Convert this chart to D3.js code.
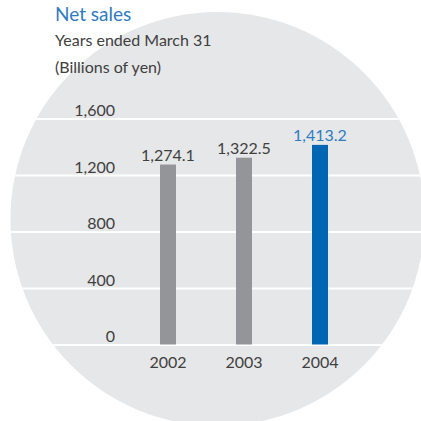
<!DOCTYPE html>
<html>
<head>
<meta charset="utf-8">
<script src="https://cdn.jsdelivr.net/npm/d3@7"></script>
<style>
  body { margin: 0; background: #fff; }
  svg { display: block; font-family: Lato, "Noto Sans", sans-serif; }
</style>
</head>
<body>
<svg width="421" height="421"></svg>
<script>
// Net sales, billions of yen
const years = ["2002", "2003", "2004"];
const sales = [1274.1, 1322.5, 1413.2];
const yTicks = [0, 400, 800, 1200, 1600];

const width = 421;
const textColor = "#404040";
const blueText = "#2e7cc2";

const svg = d3.select("svg");

// background disc, also used to clip the grid
svg.append("defs")
  .append("clipPath")
  .attr("id", "disc")
  .append("circle")
  .attr("cx", 217.5)
  .attr("cy", 219)
  .attr("r", 207);

svg.append("circle")
  .attr("cx", 217.5)
  .attr("cy", 219)
  .attr("r", 207)
  .attr("fill", "#e6e7e8");

// scales
const x = d3.scaleBand()
  .domain(years)
  .range([130, 358])
  .paddingInner(60 / 76)
  .paddingOuter(30 / 76);

const y = d3.scaleLinear()
  .domain([0, 1600])
  .range([344.5, 118.5]);

// white grid lines
const grid = svg.append("g")
  .attr("clip-path", "url(#disc)")
  .append("g")
  .attr("transform", `translate(${width},0)`)
  .call(d3.axisLeft(y).tickValues(yTicks).tickSize(width).tickFormat(""));
grid.select(".domain").remove();
grid.selectAll(".tick line")
  .attr("stroke", "#fff")
  .attr("stroke-width", 2);

// y tick labels, sitting just above each line
const gy = svg.append("g")
  .attr("transform", "translate(115,0)")
  .call(d3.axisLeft(y).tickValues(yTicks).tickSize(0).tickPadding(0).tickFormat(d3.format(",")))
  .attr("font-family", null)
  .attr("font-size", 16);
gy.select(".domain").remove();
gy.selectAll(".tick text")
  .attr("dy", null)
  .attr("y", -3)
  .attr("fill", textColor);

// bars
svg.append("g")
  .selectAll("rect")
  .data(sales)
  .join("rect")
  .attr("x", (d, i) => x(years[i]))
  .attr("y", d => y(d))
  .attr("width", x.bandwidth())
  .attr("height", d => y(0) - y(d))
  .attr("fill", (d, i) => i === sales.length - 1 ? "#0066b3" : "#939598");

// value labels
svg.append("g")
  .selectAll("text")
  .data(sales)
  .join("text")
  .attr("x", (d, i) => x(years[i]) + x.bandwidth() / 2)
  .attr("y", d => y(d) - 4)
  .attr("text-anchor", "middle")
  .attr("font-size", 16)
  .attr("fill", (d, i) => i === sales.length - 1 ? blueText : textColor)
  .text(d3.format(",.1f"));

// x axis labels
const gx = svg.append("g")
  .attr("transform", "translate(0,368)")
  .call(d3.axisBottom(x).tickSize(0).tickPadding(0))
  .attr("font-family", null)
  .attr("font-size", 16);
gx.select(".domain").remove();
gx.selectAll(".tick text")
  .attr("y", 0)
  .attr("dy", null)
  .attr("fill", textColor);

// titles
svg.append("text")
  .attr("x", 55)
  .attr("y", 20.5)
  .attr("font-size", 19)
  .attr("fill", blueText)
  .text("Net sales");

svg.append("text")
  .attr("x", 55)
  .attr("y", 45.5)
  .attr("font-size", 16)
  .attr("fill", textColor)
  .text("Years ended March 31");

svg.append("text")
  .attr("x", 55)
  .attr("y", 72.5)
  .attr("font-size", 16)
  .attr("fill", textColor)
  .text("(Billions of yen)");
</script>
</body>
</html>
